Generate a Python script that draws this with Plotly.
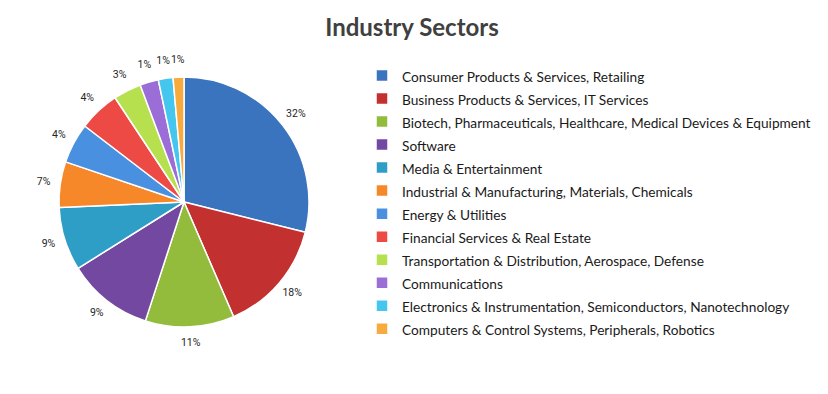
import plotly.graph_objects as go

categories = [
    "Consumer Products & Services, Retailing",
    "Business Products & Services, IT Services",
    "Biotech, Pharmaceuticals, Healthcare, Medical Devices & Equipment",
    "Software",
    "Media & Entertainment",
    "Industrial & Manufacturing, Materials, Chemicals",
    "Energy & Utilities",
    "Financial Services & Real Estate",
    "Transportation & Distribution, Aerospace, Defense",
    "Communications",
    "Electronics & Instrumentation, Semiconductors, Nanotechnology",
    "Computers & Control Systems, Peripherals, Robotics",
]
# slice sizes as drawn
slice_values = [28.9, 14.6, 11.5, 11.1, 8.2, 5.9, 5.2, 5.3, 3.6, 2.4, 1.9, 1.4]
# percentages as printed on the chart
pct_labels = ["32%", "18%", "11%", "9%", "9%", "7%", "4%", "4%", "3%", "1%", "1%", "1%"]
colors = ["#3A73BE", "#C2302F", "#93BC3C", "#7248A0", "#2F9EC6", "#F7882A",
          "#4A90E0", "#EE4A45", "#B6E04E", "#9A6ED6", "#45C6EE", "#F9AA3C"]

legend_labels = [f"<span style='font-size:13.7px'>{c}</span>" for c in categories]

# label angles = middle of each slice (degrees, clockwise from 12 o'clock)
total = sum(slice_values)
mid_angles = []
acc = 0.0
for v in slice_values:
    mid_angles.append((acc + v / 2) / total * 360)
    acc += v

# page body has an 8px margin; figure fills the rest of the 828x394 window
W, H = 820, 386
cx, cy, r = 176, 194, 125
dom_x = [(cx - r) / W, (cx + r) / W]
dom_y = [(H - cy - r) / H, (H - cy + r) / H]

# polar subplot (for the outside % labels) spans a larger circle:
# radial range [0, RMAX] so that r = 1 falls on the pie's edge
RMAX = 1.3
pr = r * RMAX
pol_x = [(cx - pr) / W, (cx + pr) / W]
pol_y = [(H - cy - pr) / H, (H - cy + pr) / H]

fig = go.Figure()
fig.add_trace(go.Pie(
    labels=legend_labels,
    values=slice_values,
    textinfo="none",
    sort=False,
    direction="clockwise",
    rotation=0,
    marker=dict(colors=colors, line=dict(color="white", width=1.5)),
    domain=dict(x=dom_x, y=dom_y),
    hovertext=pct_labels,
    hoverinfo="label+text",
))
fig.add_trace(go.Scatterpolar(
    r=[1.135] * len(pct_labels),
    theta=mid_angles,
    mode="text",
    text=pct_labels,
    textposition="middle center",
    textfont=dict(family="Roboto", size=10.5, color="#262626"),
    showlegend=False,
    hoverinfo="skip",
))

fig.update_layout(
    width=W, height=H,
    margin=dict(l=0, r=0, t=0, b=0, autoexpand=False),
    paper_bgcolor="white",
    plot_bgcolor="white",
    polar=dict(
        domain=dict(x=pol_x, y=pol_y),
        bgcolor="rgba(0,0,0,0)",
        radialaxis=dict(range=[0, RMAX], visible=False, showgrid=False),
        angularaxis=dict(rotation=90, direction="clockwise", visible=False,
                         showgrid=False, showline=False),
    ),
    title=dict(text="<b>Industry Sectors</b>", x=404 / W, xanchor="center",
               y=1 - 20 / H, yanchor="middle",
               font=dict(family="Lato", size=24, color="#404040")),
    showlegend=True,
    legend=dict(
        x=354 / W, xanchor="left",
        y=1 - 51 / H, yanchor="top",
        font=dict(family="Lato", size=15.4, color="#1a1a1a"),
        bgcolor="rgba(0,0,0,0)",
        itemclick=False,
    ),
)

fig.write_html("out.html")
